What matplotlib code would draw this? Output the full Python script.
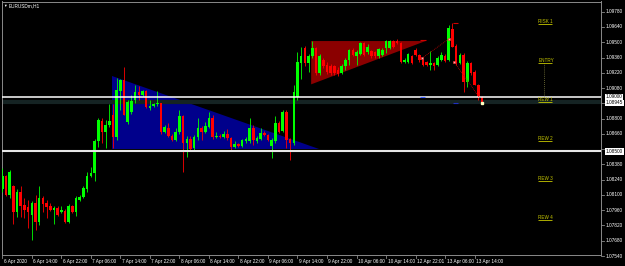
import matplotlib
matplotlib.use('Agg')
from matplotlib import pyplot as plt
from matplotlib import transforms
import numpy as np

plt.rcParams['font.family'] = ['Liberation Sans', 'DejaVu Sans']

# EURUSDm H1 candles, first bar 6 Apr 2020 06:00
opens = [
    1.0815, 1.0827, 1.0810, 1.0818, 1.0794, 1.0813, 1.0801, 1.0799, 1.0792, 1.0803,
    1.0785, 1.0807, 1.0803, 1.0800, 1.0796, 1.0798, 1.0794, 1.0795, 1.0785, 1.0800,
    1.0794, 1.0805, 1.0808, 1.0815, 1.0827, 1.0830, 1.0859, 1.0878, 1.0868, 1.0874,
    1.0883, 1.0863, 1.0905, 1.0915, 1.0877, 1.0886, 1.0897, 1.0904, 1.0902, 1.0905,
    1.0890, 1.0892, 1.0893, 1.0894, 1.0868, 1.0871, 1.0864, 1.0860, 1.0868, 1.0882,
    1.0858, 1.0861, 1.0853, 1.0863, 1.0871, 1.0868, 1.0872, 1.0881, 1.0863, 1.0864,
    1.0863, 1.0866, 1.0862, 1.0854, 1.0857, 1.0855, 1.0859, 1.0859, 1.0871, 1.0859,
    1.0861, 1.0867, 1.0865, 1.0855, 1.0859, 1.0876, 1.0869, 1.0886, 1.0861, 1.0858,
    1.0900, 1.0931, 1.0945, 1.0931, 1.0937, 1.0945, 1.0922, 1.0934, 1.0929, 1.0928,
    1.0928, 1.0925, 1.0922, 1.0928, 1.0934, 1.0943, 1.0937, 1.0939, 1.0949, 1.0941,
    1.0942, 1.0941, 1.0937, 1.0938, 1.0945, 1.0945, 1.0951, 1.0951, 1.0949, 1.0932,
    1.0932, 1.0937, 1.0943, 1.0938, 1.0934, 1.0932, 1.0929, 1.0931, 1.0929, 1.0934,
    1.0937, 1.0934, 1.0962, 1.0947, 1.0931, 1.0938, 1.0914, 1.0931, 1.0923, 1.0911,
    1.0900,
]
highs = [
    1.0835, 1.0828, 1.0833, 1.0819, 1.0815, 1.0818, 1.0807, 1.0805, 1.0804, 1.0810,
    1.0818, 1.0809, 1.0805, 1.0803, 1.0800, 1.0800, 1.0800, 1.0797, 1.0802, 1.0801,
    1.0809, 1.0810, 1.0818, 1.0831, 1.0836, 1.0861, 1.0881, 1.0881, 1.0879, 1.0893,
    1.0893, 1.0917, 1.0916, 1.0927, 1.0897, 1.0902, 1.0911, 1.0910, 1.0906, 1.0906,
    1.0897, 1.0894, 1.0905, 1.0894, 1.0874, 1.0876, 1.0866, 1.0871, 1.0888, 1.0883,
    1.0864, 1.0864, 1.0865, 1.0881, 1.0873, 1.0877, 1.0886, 1.0883, 1.0868, 1.0866,
    1.0869, 1.0870, 1.0863, 1.0859, 1.0858, 1.0861, 1.0863, 1.0881, 1.0874, 1.0864,
    1.0871, 1.0869, 1.0866, 1.0862, 1.0882, 1.0878, 1.0888, 1.0888, 1.0862, 1.0911,
    1.0941, 1.0946, 1.0947, 1.0939, 1.0951, 1.0946, 1.0939, 1.0936, 1.0932, 1.0930,
    1.0929, 1.0927, 1.0930, 1.0936, 1.0944, 1.0945, 1.0943, 1.0950, 1.0950, 1.0948,
    1.0943, 1.0942, 1.0945, 1.0945, 1.0952, 1.0952, 1.0952, 1.0953, 1.0950, 1.0936,
    1.0940, 1.0938, 1.0945, 1.0939, 1.0935, 1.0933, 1.0942, 1.0932, 1.0937, 1.0941,
    1.0939, 1.0966, 1.0968, 1.0948, 1.0940, 1.0940, 1.0933, 1.0932, 1.0925, 1.0912,
    1.0901,
]
lows = [
    1.0813, 1.0809, 1.0807, 1.0783, 1.0790, 1.0790, 1.0789, 1.0780, 1.0769, 1.0778,
    1.0782, 1.0794, 1.0789, 1.0795, 1.0783, 1.0791, 1.0793, 1.0784, 1.0784, 1.0793,
    1.0791, 1.0804, 1.0807, 1.0813, 1.0826, 1.0823, 1.0854, 1.0858, 1.0853, 1.0872,
    1.0853, 1.0860, 1.0888, 1.0883, 1.0875, 1.0884, 1.0894, 1.0897, 1.0901, 1.0890,
    1.0888, 1.0891, 1.0892, 1.0866, 1.0867, 1.0863, 1.0859, 1.0859, 1.0866, 1.0831,
    1.0845, 1.0851, 1.0851, 1.0860, 1.0860, 1.0867, 1.0871, 1.0861, 1.0862, 1.0862,
    1.0862, 1.0860, 1.0851, 1.0853, 1.0854, 1.0854, 1.0858, 1.0858, 1.0856, 1.0858,
    1.0860, 1.0864, 1.0859, 1.0844, 1.0858, 1.0867, 1.0868, 1.0853, 1.0842, 1.0856,
    1.0897, 1.0916, 1.0928, 1.0923, 1.0936, 1.0920, 1.0920, 1.0926, 1.0921, 1.0920,
    1.0920, 1.0919, 1.0921, 1.0925, 1.0929, 1.0937, 1.0929, 1.0938, 1.0937, 1.0939,
    1.0936, 1.0936, 1.0936, 1.0937, 1.0940, 1.0944, 1.0945, 1.0948, 1.0931, 1.0931,
    1.0931, 1.0930, 1.0937, 1.0932, 1.0928, 1.0928, 1.0925, 1.0925, 1.0928, 1.0933,
    1.0932, 1.0933, 1.0946, 1.0929, 1.0930, 1.0904, 1.0909, 1.0920, 1.0911, 1.0897,
    1.0893,
]
closes = [
    1.0827, 1.0810, 1.0831, 1.0794, 1.0813, 1.0800, 1.0796, 1.0794, 1.0803, 1.0785,
    1.0807, 1.0802, 1.0799, 1.0796, 1.0798, 1.0792, 1.0796, 1.0785, 1.0800, 1.0794,
    1.0807, 1.0808, 1.0816, 1.0827, 1.0830, 1.0859, 1.0879, 1.0868, 1.0874, 1.0878,
    1.0863, 1.0906, 1.0915, 1.0883, 1.0895, 1.0896, 1.0904, 1.0902, 1.0905, 1.0891,
    1.0892, 1.0893, 1.0894, 1.0868, 1.0872, 1.0864, 1.0860, 1.0868, 1.0882, 1.0858,
    1.0861, 1.0852, 1.0863, 1.0871, 1.0868, 1.0873, 1.0881, 1.0863, 1.0864, 1.0863,
    1.0866, 1.0862, 1.0854, 1.0857, 1.0855, 1.0860, 1.0861, 1.0871, 1.0860, 1.0862,
    1.0867, 1.0865, 1.0860, 1.0860, 1.0876, 1.0868, 1.0886, 1.0860, 1.0858, 1.0904,
    1.0932, 1.0937, 1.0931, 1.0937, 1.0945, 1.0922, 1.0937, 1.0928, 1.0923, 1.0922,
    1.0922, 1.0921, 1.0928, 1.0934, 1.0943, 1.0938, 1.0941, 1.0949, 1.0938, 1.0946,
    1.0937, 1.0937, 1.0944, 1.0943, 1.0951, 1.0951, 1.0946, 1.0949, 1.0932, 1.0934,
    1.0939, 1.0931, 1.0938, 1.0934, 1.0929, 1.0929, 1.0931, 1.0928, 1.0936, 1.0938,
    1.0933, 1.0963, 1.0946, 1.0931, 1.0938, 1.0914, 1.0931, 1.0922, 1.0911, 1.0900,
    1.08945,
]

# time axis labels, one every 8 bars
date_labels = ['6 Apr 2020', '6 Apr 14:00', '6 Apr 22:00', '7 Apr 06:00', '7 Apr 14:00',
               '7 Apr 22:00', '8 Apr 06:00', '8 Apr 14:00', '8 Apr 22:00', '9 Apr 06:00',
               '9 Apr 14:00', '9 Apr 22:00', '10 Apr 06:00', '10 Apr 14:00', '12 Apr 22:01',
               '13 Apr 06:00', '13 Apr 14:00']
label_step = 8

# price scale
price_ticks = [round(1.07540 + 0.0014 * k, 5) for k in range(17)]

# chart objects
hline_prices = [1.09000, 1.08500]
band_price = 1.0895
level_names = ['RISK 1', 'ENTRY', 'REW 1', 'REW 2', 'REW 3', 'REW 4']
level_prices = [1.0967, 1.0931, 1.0895, 1.0859, 1.0823, 1.0787]

blue_tri_bars = [29.8, 29.8, 85.7]
blue_tri_prices = [1.09193, 1.08521, 1.08521]
red_tri_bars = [83.7, 114.7, 83.7]
red_tri_prices = [1.09511, 1.09511, 1.09114]

trade_open_bars = [113.8, 122.4]
trade_open_prices = [1.09355, 1.0932]
trade_close_bars = [121.0, 129.6]
trade_close_prices = [1.0953, 1.0898]


W, H = 625, 266
fig = plt.figure(figsize=(W / 100, H / 100), dpi=100, facecolor='black')
ax_w, ax_h = 599, 253.5
ax = fig.add_axes([2 / W, 1 - 255 / H, ax_w / W, ax_h / H])
ax.set_facecolor('black')
ax.set_xlim(-0.08, 162.25)
ax.set_ylim(1.075494, 1.098735)
ax.set_xticks([])
ax.set_yticks([])
for s in ax.spines.values():
    s.set_color('#8a8a8a')
    s.set_linewidth(0.7)

o = np.array(opens)
c = np.array(closes)
h = np.maximum(np.array(highs), np.maximum(o, c))
l = np.minimum(np.array(lows), np.minimum(o, c))
idx = np.arange(len(o))
up = c > o
cols = np.where(up, '#00ff00', '#ff0000')

# triangles sit behind the candles
ax.fill(blue_tri_bars, blue_tri_prices, color='#00008b', lw=0, zorder=1)
ax.fill(red_tri_bars, red_tri_prices, color='#8b0000', lw=0, zorder=1)

ax.axhline(band_price, color='#152323', lw=3, zorder=2)

ax.vlines(idx, l, h, colors=cols, lw=0.6, zorder=3)
body_lo = np.minimum(o, c)
body_h = np.maximum(np.abs(c - o), 0.00003)
ax.bar(idx, body_h, bottom=body_lo, width=0.7, color=cols, lw=0, zorder=3)

ax.axhline(hline_prices[0], color='white', lw=1.1, zorder=4)
ax.axhline(hline_prices[1], color='#e6e6e6', lw=1.5, zorder=4)

# trade history
for ob, op, cb, cp in zip(trade_open_bars, trade_open_prices, trade_close_bars, trade_close_prices):
    ax.plot([ob, cb], [op, cp], color='#c00000', ls=(0, (1, 1.2)), lw=0.6, zorder=5)
ax.plot(trade_open_bars, trade_open_prices, 's', ms=2, mfc='#ffb0b0', mec='#ff3030', mew=0.4, zorder=6)
ax.plot(trade_close_bars[:1], trade_close_prices[:1], 's', ms=2, mfc='#ffb0b0', mec='#ff3030', mew=0.4, zorder=6)
ax.plot([idx[-1] + 0.1], [closes[-1]], 's', ms=2, mfc='#ffffc0', mec='#ffffc0', zorder=6)
ax.hlines([1.0952, 1.0968], [113.2, 122.1], [114.8, 123.6], colors='#d00000', lw=0.8, zorder=5)
ax.hlines([1.0900, 1.0894], [113.2, 122.2], [114.6, 123.6], colors=['#4060ff', '#2030c0'], lw=0.8, zorder=5)

# risk / reward levels
yel = '#c8c800'
for name, p in zip(level_names, level_prices):
    ax.text(145.3, p, name, color=yel, fontsize=3.3, ha='left', va='bottom', zorder=6)
    ax.hlines(p, 145.3, 149.1, colors=yel, lw=0.6, zorder=6)
ax.vlines(146.7, hline_prices[0], level_prices[1], colors='#808040',
          linestyles=(0, (1, 1.5)), lw=0.6, zorder=5)

# price axis
ty = transforms.blended_transform_factory(ax.transAxes, ax.transData)
boxes = [hline_prices[0], hline_prices[1], closes[-1]]
for p in price_ticks:
    ax.plot([1.0, 1.0 + 3 / ax_w], [p, p], color='#8a8a8a', lw=0.6, transform=ty, clip_on=False)
    if min(abs(p - b) for b in boxes) < 0.00045:
        continue
    ax.text(1.0 + 5 / ax_w, p, f'{p:.5f}', color='white', fontsize=3.4, ha='left',
            va='center', transform=ty, clip_on=False)
for p in boxes:
    ax.text(1.0 + 5 / ax_w, p, f'{p:.5f}', color='black', fontsize=3.4, ha='left',
            va='center', transform=ty, clip_on=False,
            bbox=dict(boxstyle='square,pad=0.15', fc='white', ec='none'))

# time axis
tx = transforms.blended_transform_factory(ax.transData, ax.transAxes)
for k, lab in enumerate(date_labels):
    i = k * label_step
    ax.plot([i, i], [0, -3 / ax_h], color='#8a8a8a', lw=0.6, transform=tx, clip_on=False)
    ax.text(i + 0.4, -6.5 / ax_h, lab, color='white', fontsize=3.4, ha='left',
            va='center', transform=tx, clip_on=False)

fig.text(3.5 / W, 1 - 5.5 / H, '\u25bc', color='white', fontsize=2.6, ha='left', va='center')
fig.text(9 / W, 1 - 5.5 / H, 'EURUSDm,H1', color='white', fontsize=3.4, ha='left', va='center')

fig.savefig('out.png', dpi=100, facecolor='black')
